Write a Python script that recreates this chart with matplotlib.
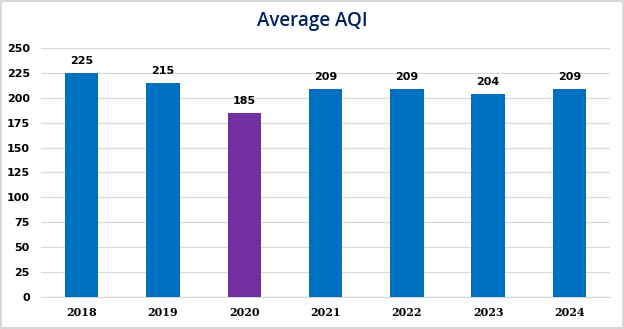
import matplotlib
matplotlib.use("Agg")
import matplotlib.pyplot as plt
from matplotlib.patches import Rectangle

years = ["2018", "2019", "2020", "2021", "2022", "2023", "2024"]
aqi = [225, 215, 185, 209, 209, 204, 209]
colors = ["#0070C0", "#0070C0", "#7030A0", "#0070C0", "#0070C0", "#0070C0", "#0070C0"]
yticks = [0, 25, 50, 75, 100, 125, 150, 175, 200, 225, 250]

fig = plt.figure(figsize=(6.24, 3.29), dpi=100)
fig.patch.set_facecolor("white")
fig.patches.append(Rectangle((0.002, 0.003), 0.996, 0.994, transform=fig.transFigure,
                             fill=False, edgecolor="#D0D0D0", linewidth=1.2))
ax = fig.add_axes([0.0657, 0.0973, 0.912, 0.757])
x = range(len(years))
bars = ax.bar(x, aqi, width=0.41, color=colors, zorder=3)
ax.set_xlim(-0.5, len(years) - 0.5)
ax.set_ylim(0, 250)
ax.set_yticks(yticks)
ax.grid(axis="y", color="#D9D9D9", linewidth=0.9, zorder=0)
for s in ["top", "right", "left"]:
    ax.spines[s].set_visible(False)
ax.spines["bottom"].set_color("#D9D9D9")
ax.tick_params(axis="both", length=0, labelsize=8)
ax.tick_params(axis="y", pad=8)
ax.tick_params(axis="x", pad=7)
ax.set_xticks(list(x))
ax.set_xticklabels(years, fontweight="bold", fontsize=8, family="DejaVu Serif")
for lbl in ax.get_yticklabels():
    lbl.set_fontweight("bold")
for xi, v in zip(x, aqi):
    ax.text(xi, v + 6.5, str(v), ha="center", va="bottom", fontsize=8, fontweight="bold")
fig.text(0.5, 0.935, "Average AQI", ha="center", va="center", fontsize=13.5,
         color="#002060", family="Open Sans", fontweight="semibold")
fig.savefig("out.png", dpi=100)
